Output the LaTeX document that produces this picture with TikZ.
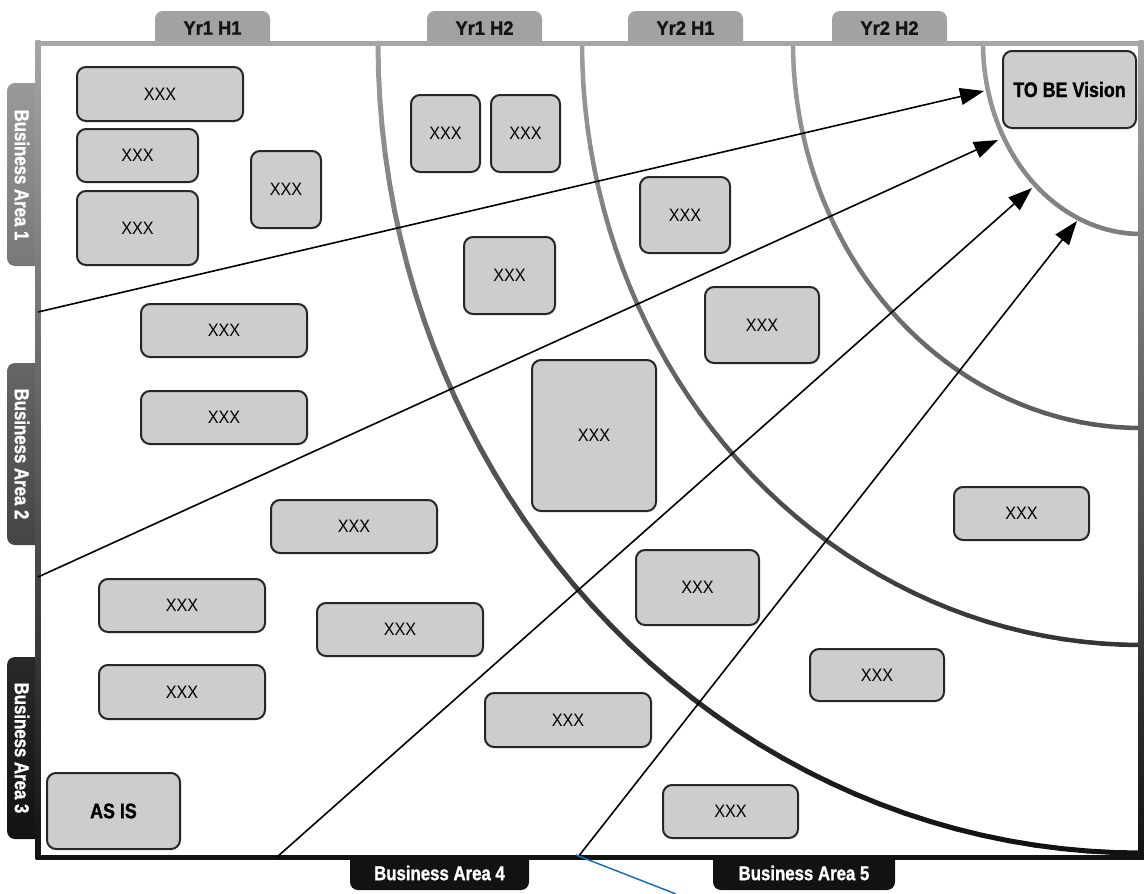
\documentclass[tikz,border=0pt]{standalone}
\usepackage{fontspec}
\usetikzlibrary{arrows.meta}
\newfontfamily\boxfont[FakeStretch=0.9]{Liberation Sans}
\newfontfamily\tabfont[FakeStretch=0.84, BoldFeatures={FakeBold=1.2}]{Liberation Sans}
\newfontfamily\yrfont[FakeStretch=0.94, BoldFeatures={FakeBold=1.2}]{Liberation Sans}
\newfontfamily\visfont[FakeStretch=0.85, BoldFeatures={FakeBold=1.2}]{Liberation Sans}
\definecolor{boxfill}{HTML}{CDCDCD}
\definecolor{boxline}{HTML}{262626}
\definecolor{fr0}{gray}{0.65}
\definecolor{fr1}{gray}{0.07}
\definecolor{tabtop}{HTML}{A2A2A2}
\definecolor{tabblack}{HTML}{121212}
\definecolor{ytext}{HTML}{141414}
\definecolor{bluel}{HTML}{1A6FC0}
\definecolor{ba1a}{gray}{0.60}
\definecolor{ba1b}{gray}{0.47}
\definecolor{ba2a}{gray}{0.40}
\definecolor{ba2b}{gray}{0.27}
\definecolor{ba3a}{gray}{0.16}
\definecolor{ba3b}{gray}{0.07}
\tikzset{
  box/.style={draw=boxline, fill=boxfill, line width=2pt, rounded corners=9pt,
    inner sep=0pt, text=black, font={\boxfont\fontsize{18}{18}\selectfont}},
  boldbox/.style={box, font={\visfont\bfseries\fontsize{21}{21}\selectfont}},
  yrtxt/.style={inner sep=0pt, text=ytext, font={\yrfont\bfseries\fontsize{19.5}{19.5}\selectfont}},
  batxt/.style={inner sep=0pt, text=white, font={\tabfont\bfseries\fontsize{20}{20}\selectfont}},
  arr/.style={-{Triangle[length=24pt,width=17pt]}, line width=1.6pt, draw=black, fill=black},
}
\begin{document}
\begin{tikzpicture}[x=1pt,y=-1pt]
\useasboundingbox (0,0) rectangle (1144,894);
\fill[white] (0,0) rectangle (1144,894);

% top tabs
\begin{scope}
\clip (0,0) rectangle (1144,43);
\fill[tabtop, rounded corners=8pt] (155,11) rectangle (270,70);
\fill[tabtop, rounded corners=8pt] (427,11) rectangle (542,70);
\fill[tabtop, rounded corners=8pt] (628,11) rectangle (743,70);
\fill[tabtop, rounded corners=8pt] (832,11) rectangle (947,70);
\end{scope}
\node[yrtxt] (yr1h1) at (212.5,28) {Yr1 H1};
\node[yrtxt] (yr1h2) at (484.5,28) {Yr1 H2};
\node[yrtxt] (yr2h1) at (685.5,28) {Yr2 H1};
\node[yrtxt] (yr2h2) at (889.5,28) {Yr2 H2};

% left tabs
\begin{scope}
\clip (0,0) rectangle (40,894);
\shade[top color=ba1a, bottom color=ba1b, rounded corners=8pt] (7,83) rectangle (60,266);
\shade[top color=ba2a, bottom color=ba2b, rounded corners=8pt] (7,363) rectangle (60,545);
\shade[top color=ba3a, bottom color=ba3b, rounded corners=8pt] (7,657) rectangle (60,839);
\end{scope}
\node[batxt, rotate=-90] (ba1) at (22,175) {Business Area 1};
\node[batxt, rotate=-90] (ba2) at (22,454) {Business Area 2};
\node[batxt, rotate=-90] (ba3) at (22,748) {Business Area 3};

% bottom tabs
\begin{scope}
\clip (0,857) rectangle (1144,894);
\fill[tabblack, rounded corners=8pt] (350,820) rectangle (529,890);
\fill[tabblack, rounded corners=8pt] (713,820) rectangle (895,890);
\end{scope}
\node[batxt] (ba4) at (439.5,873) {Business Area 4};
\node[batxt] (ba5) at (804,873) {Business Area 5};

% arcs with vertical gradient
\foreach \ea/\eb/\lw in {158/191/4.5,348/385/4.5,559/602/4.5,763/810/5}{
  \foreach \i in {0,...,44}{
    \pgfmathsetmacro\ta{\i*2}
    \pgfmathsetmacro\tb{\i*2+2}
    \pgfmathsetmacro\ym{43+\eb*sin(\i*2+1)}
    \pgfmathsetmacro\g{max(0.07,min(0.62,0.62-0.56*(\ym-43)/814))}
    \definecolor{segc}{gray}{\g}
    \draw[segc, line width=\lw pt, line cap=round]
      ({1141-\ea*cos(\ta)},{43+\eb*sin(\ta)}) -- ({1141-\ea*cos(\tb)},{43+\eb*sin(\tb)});
  }
}

% frame
\shade[top color=fr0, bottom color=fr1] (35.5,40.5) rectangle (40.5,859.5);
\shade[top color=fr0, bottom color=fr1] (1138.5,40.5) rectangle (1143.5,859.5);
\fill[fr0] (35.5,40.5) rectangle (1143.5,45.5);
\fill[fr1] (35.5,854.5) rectangle (1143.5,859.5);

% boxes
\node[box, minimum width=166pt, minimum height=54pt] (b1) at (160,94) {XXX};
\node[box, minimum width=121pt, minimum height=53pt] (b2) at (137.5,155.5) {XXX};
\node[box, minimum width=121pt, minimum height=74pt] (b3) at (137.5,228) {XXX};
\node[box, minimum width=70pt, minimum height=77pt] (b4) at (286,189.5) {XXX};
\node[box, minimum width=166pt, minimum height=53pt] (b5) at (224,330.5) {XXX};
\node[box, minimum width=166pt, minimum height=53pt] (b6) at (224,417.5) {XXX};
\node[box, minimum width=166pt, minimum height=53pt] (b7) at (354,526.5) {XXX};
\node[box, minimum width=166pt, minimum height=53pt] (b8) at (182,605.5) {XXX};
\node[box, minimum width=166pt, minimum height=54pt] (b9) at (182,692) {XXX};
\node[box, minimum width=166pt, minimum height=53pt] (b10) at (400,629.5) {XXX};
\node[boldbox, minimum width=133pt, minimum height=76pt] (asis) at (113.5,811) {AS IS};
\node[box, minimum width=69pt, minimum height=77pt] (b12) at (445.5,133.5) {XXX};
\node[box, minimum width=69pt, minimum height=77pt] (b13) at (525.5,133.5) {XXX};
\node[box, minimum width=91pt, minimum height=77pt] (b14) at (509.5,275.5) {XXX};
\node[box, minimum width=124pt, minimum height=151pt] (b15) at (594,435.5) {XXX};
\node[box, minimum width=90pt, minimum height=76pt] (b16) at (685,215) {XXX};
\node[box, minimum width=114pt, minimum height=76pt] (b17) at (762,325) {XXX};
\node[box, minimum width=123pt, minimum height=75pt] (b18) at (697.5,587.5) {XXX};
\node[box, minimum width=166pt, minimum height=54pt] (b19) at (568,720) {XXX};
\node[box, minimum width=135pt, minimum height=53pt] (b20) at (730.5,811.5) {XXX};
\node[box, minimum width=134pt, minimum height=52pt] (b21) at (877,675) {XXX};
\node[box, minimum width=135pt, minimum height=53pt] (b22) at (1021.5,513.5) {XXX};
\node[boldbox, minimum width=133pt, minimum height=77pt] (tobe) at (1069.5,89.5) {TO BE Vision};

% arrows
\coordinate (s1) at (38,312);  \coordinate (t1) at (984,91);
\coordinate (s2) at (38,577);  \coordinate (t2) at (998,140);
\coordinate (s3) at (277,857); \coordinate (t3) at (1032,188);
\coordinate (s4) at (578,857); \coordinate (t4) at (1077,221);
\draw[arr] (s1) -- (t1);
\draw[arr] (s2) -- (t2);
\draw[arr] (s3) -- (t3);
\draw[arr] (s4) -- (t4);

% stray blue line
\coordinate (u0) at (576,855); \coordinate (u1) at (676,894);
\draw[bluel, line width=1.5pt] (u0) -- (u1);
\end{tikzpicture}
\end{document}
